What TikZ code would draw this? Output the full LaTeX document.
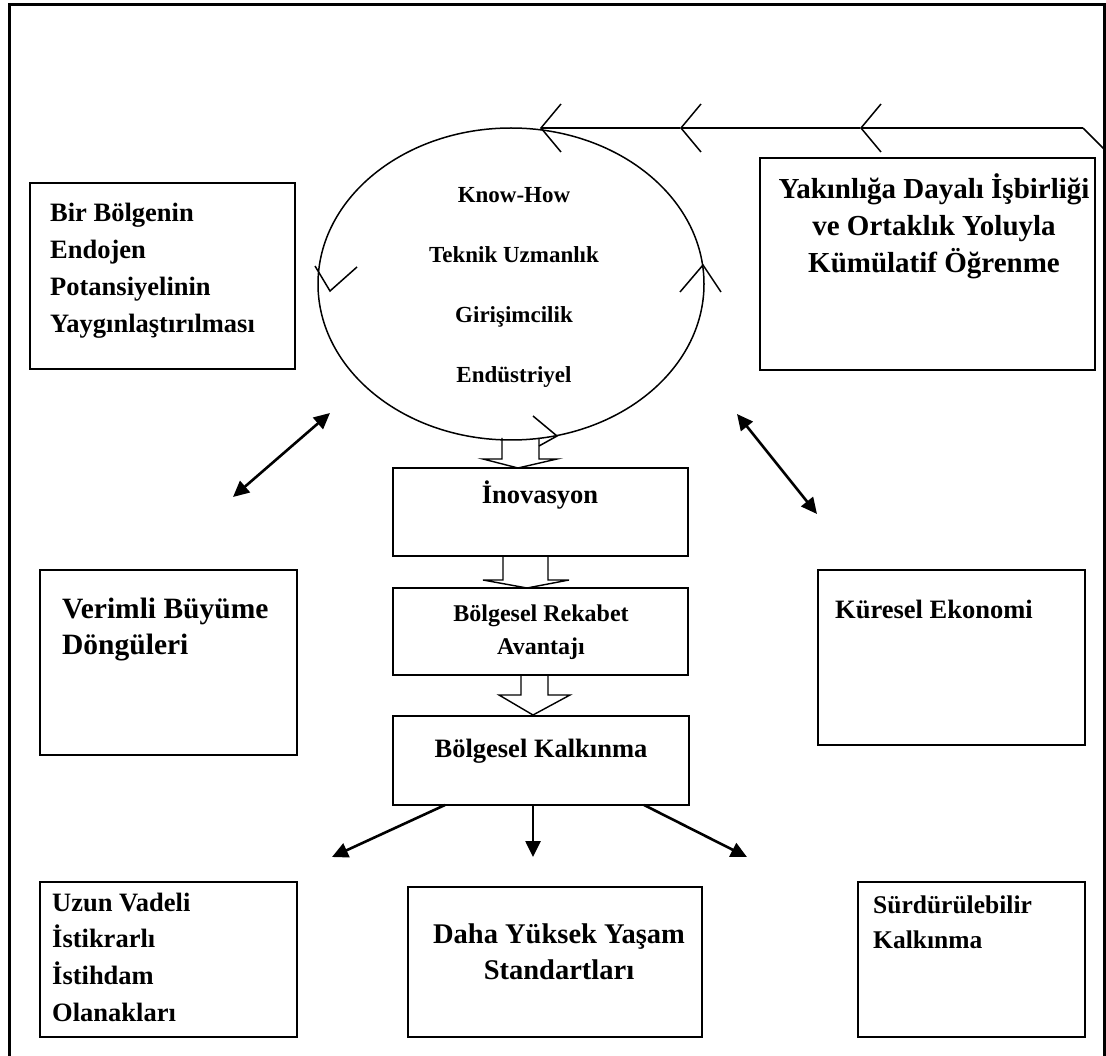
\documentclass[tikz,border=0pt]{standalone}
\usepackage{fontspec}
\setmainfont{Liberation Serif}
\usetikzlibrary{arrows.meta,calc,shapes.geometric}
% stacked lines whose baseline is the first line
\newcommand{\leftlines}[1]{\begin{tabular}[t]{@{}l@{}}#1\end{tabular}}
\newcommand{\midlines}[1]{\begin{tabular}[t]{@{}c@{}}#1\end{tabular}}
\begin{document}
\begin{tikzpicture}[x=1pt,y=-1pt,
  box/.style={draw, line width=2pt, rectangle, inner sep=0pt, outer sep=0pt},
  txt/.style={inner sep=0pt, font=\bfseries\fontsize{#1}{36.7}\selectfont},
  txt/.default=26.5,
  flow/.style={draw, line width=1.4pt, line join=miter},
  link/.style={line width=2.6pt, -{Triangle[length=16pt,width=15pt]}},
  twoway/.style={line width=2.6pt, {Triangle[length=16pt,width=15pt]}-{Triangle[length=16pt,width=15pt]}},
  loopline/.style={line width=1.5pt},
  barb/.style={line width=1.5pt, -{Straight Barb[length=20pt,width=48pt]}},
]
\useasboundingbox (0,0) rectangle (1106,1056);
\clip (0,0) rectangle (1106,1056);

% outer frame (open at the bottom)
\draw[line width=3pt] (9,1070) -- (9,5) -- (1104,5) -- (1104,1070);

% knowledge cycle
\node[ellipse, draw, line width=1.5pt, minimum width=386pt, minimum height=312pt, inner sep=0pt] (cyc) at (511,284) {};
\node[inner sep=0pt, font=\bfseries\fontsize{23}{60}\selectfont, anchor=base] (ctext) at (514,203)
  {\midlines{Know-How\\Teknik Uzmanlık\\Girişimcilik\\Endüstriyel}};
% direction marks on the cycle
\draw[loopline] (315,266) -- (330,291) -- (357,267);
\draw[loopline] (680,292) -- (703,265) -- (721,292);
\draw[loopline] (533,416) -- (557,436) -- (539,446);

% boxes
\node[box, minimum width=265pt, minimum height=186pt] (bl) at (162.5,276) {};
\node[box, minimum width=335pt, minimum height=212pt] (br) at (927.5,264) {};
\node[box, minimum width=295pt, minimum height=88pt] (inov) at (540.5,512) {};
\node[box, minimum width=295pt, minimum height=87pt] (rek) at (540.5,631.5) {};
\node[box, minimum width=296pt, minimum height=89pt] (kalk) at (541,760.5) {};
\node[box, minimum width=257pt, minimum height=185pt] (ver) at (168.5,662.5) {};
\node[box, minimum width=267pt, minimum height=175pt] (kur) at (951.5,657.5) {};
\node[box, minimum width=257pt, minimum height=155pt] (uzun) at (168.5,959.5) {};
\node[box, minimum width=294pt, minimum height=150pt] (daha) at (555,962) {};
\node[box, minimum width=227pt, minimum height=155pt] (surd) at (971.5,959.5) {};

% box texts
\node[txt, anchor=base west] (blt) at (50,222)
  {\leftlines{Bir Bölgenin\\Endojen\\Potansiyelinin\\Yaygınlaştırılması}};
\node[txt=29, anchor=base] (brt) at (934,199)
  {\midlines{Yakınlığa Dayalı İşbirliği\\ve Ortaklık Yoluyla\\Kümülatif Öğrenme}};
\node[txt, anchor=base] (inovt) at (540,503) {İnovasyon};
\node[inner sep=0pt, font=\bfseries\fontsize{24}{33}\selectfont, anchor=base] (rekt) at (541,621)
  {\midlines{Bölgesel Rekabet\\Avantajı}};
\node[txt, anchor=base] (kalkt) at (541,757) {Bölgesel Kalkınma};
\node[txt=29.5, anchor=base west] (vert) at (62,618) {\leftlines{Verimli Büyüme\\Döngüleri}};
\node[txt, anchor=base west] (kurt) at (835,618) {Küresel Ekonomi};
\node[txt, anchor=base west] (uzunt) at (52,911)
  {\leftlines{Uzun Vadeli\\İstikrarlı\\İstihdam\\Olanakları}};
\node[txt=28.5, anchor=base] (dahat) at (559,943) {\midlines{Daha Yüksek Yaşam\\Standartları}};
\node[inner sep=0pt, font=\bfseries\fontsize{25.5}{35.5}\selectfont, anchor=base west] (surdt) at (873,913)
  {\leftlines{Sürdürülebilir\\Kalkınma}};

% feedback line from the right into the cycle
\coordinate (fb0) at (1118,163);
\coordinate (fb1) at (1083,128);
\coordinate (k1) at (860,128);
\coordinate (k2) at (680,128);
\coordinate (k3) at (540,128);
\draw[loopline] (fb0) -- (fb1);
\draw[barb] (fb1) -- (k1);
\draw[barb] (k1) -- (k2);
\draw[barb] (k2) -- (k3);

% hollow block arrows down the middle
\coordinate (A) at (inov.north west);
\draw[flow] ($(A)+(109,-30)$) -- ($(A)+(109,-9)$) -- ($(A)+(90,-9)$) -- ($(A)+(125,0)$)
  -- ($(A)+(164,-9)$) -- ($(A)+(146,-9)$) -- ($(A)+(146,-30)$);
\coordinate (B) at (rek.north west);
\draw[flow] ($(B)+(110,-32)$) -- ($(B)+(110,-8)$) -- ($(B)+(90,-8)$) -- ($(B)+(134,0)$)
  -- ($(B)+(176,-8)$) -- ($(B)+(155,-8)$) -- ($(B)+(155,-32)$);
\coordinate (C) at (kalk.north west);
\draw[flow] ($(C)+(128,-41)$) -- ($(C)+(128,-21)$) -- ($(C)+(106,-21)$) -- ($(C)+(140,-1)$)
  -- ($(C)+(177,-21)$) -- ($(C)+(155,-21)$) -- ($(C)+(155,-41)$);

% two-way links with the surroundings
\coordinate (d1) at (233,497);
\coordinate (d2) at (330,413);
\coordinate (d3) at (737,414);
\coordinate (d4) at (817,514);
\draw[twoway] (d1) -- (d2);
\draw[twoway] (d3) -- (d4);

% outcomes of regional development
\coordinate (t1) at (332,857);
\coordinate (t2) at (533,857);
\coordinate (t3) at (747,857);
\draw[link] ($(kalk.south west)+(52,0)$) -- (t1);
\draw[link] ($(kalk.south west)+(140,0)$) -- (t2);
\draw[link] ($(kalk.south west)+(251,0)$) -- (t3);
\end{tikzpicture}
\end{document}
